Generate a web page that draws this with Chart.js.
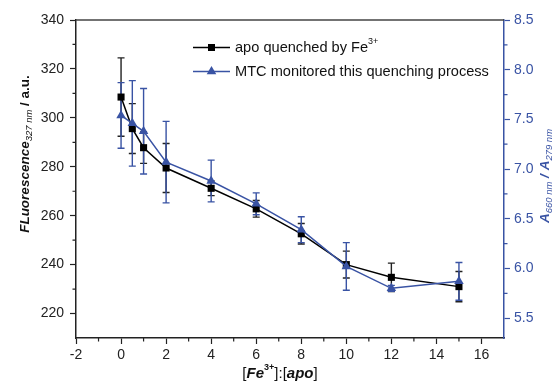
<!DOCTYPE html>
<html>
<head>
<meta charset="utf-8">
<script src="https://cdn.jsdelivr.net/npm/chart.js@4.4.1/dist/chart.umd.min.js"></script>
<style>
  html, body { margin: 0; padding: 0; background: #fff; }
  #wrap { width: 557px; height: 381px; position: relative; }
</style>
</head>
<body>
<div id="wrap"><canvas id="chart"></canvas></div>
<script>
// 数据: [Fe3+]:[apo] 比例
const ratios = [0, 0.5, 1, 2, 4, 6, 8, 10, 12, 15];
// 荧光强度 (左轴)
const fluo = [308.5, 295.6, 287.8, 279.5, 271.2, 262.8, 252.6, 240.0, 234.8, 231.0];
const fluoErr = [16, 10.2, 6.4, 10, 3, 3.4, 4.2, 5.5, 5.8, 6.2];
// A660/A279 (右轴)
const absRatio = [7.54, 7.46, 7.38, 7.07, 6.88, 6.65, 6.39, 6.02, 5.80, 5.87];
const absErr = [0.33, 0.43, 0.43, 0.41, 0.21, 0.11, 0.13, 0.24, 0.03, 0.19];
// 刻度
const xTicks = [-2, 0, 2, 4, 6, 8, 10, 12, 14, 16];
const yTicks = [220, 240, 260, 280, 300, 320, 340];
const y1Ticks = [5.5, 6.0, 6.5, 7.0, 7.5, 8.0, 8.5];
const xMinor = [-1, 1, 3, 5, 7, 9, 11, 13, 15];
const yMinor = [230, 250, 270, 290, 310, 330];
const y1Minor = [5.75, 6.25, 6.75, 7.25, 7.75, 8.25];

const BLUE = '#3953a4';
const FONT = '"Liberation Sans", Arial, sans-serif';

// 富文本 (上下标)
function richWidth(ctx, parts) {
    let w = 0;
    parts.forEach(p => { ctx.font = p.font; w += ctx.measureText(p.t).width; });
    return w;
}
function drawRich(ctx, parts, x, y, color) {
    let cx = x - richWidth(ctx, parts) / 2;
    ctx.fillStyle = color;
    ctx.textBaseline = 'middle';
    ctx.textAlign = 'left';
    parts.forEach(p => {
        ctx.font = p.font;
        ctx.fillText(p.t, cx, y + (p.dy || 0));
        cx += ctx.measureText(p.t).width;
    });
}

function drawMarker(ctx, style, x, y, color) {
    ctx.fillStyle = color;
    ctx.beginPath();
    if (style === 'rect') {
        ctx.rect(x - 3.5, y - 3.5, 7, 7);
    } else {
        ctx.moveTo(x, y - 5.5);
        ctx.lineTo(x + 4.8, y + 2.8);
        ctx.lineTo(x - 4.8, y + 2.8);
        ctx.closePath();
    }
    ctx.fill();
}

const extras = {
    id: 'extras',
    beforeDatasetsDraw(chart) {
        const ctx = chart.ctx;
        const xs = chart.scales.x;
        const sets = [
            { vals: fluo, errs: fluoErr, scale: chart.scales.y, color: '#222', w: 1.4 },
            { vals: absRatio, errs: absErr, scale: chart.scales.y1, color: BLUE, w: 1.4 }
        ];
        ctx.save();
        sets.forEach(s => {
            ctx.strokeStyle = s.color;
            ctx.lineWidth = s.w;
            ratios.forEach((r, i) => {
                const px = xs.getPixelForValue(r);
                const top = s.scale.getPixelForValue(s.vals[i] + s.errs[i]);
                const bot = s.scale.getPixelForValue(s.vals[i] - s.errs[i]);
                ctx.beginPath();
                ctx.moveTo(px, top); ctx.lineTo(px, bot);
                ctx.moveTo(px - 3.5, top); ctx.lineTo(px + 3.5, top);
                ctx.moveTo(px - 3.5, bot); ctx.lineTo(px + 3.5, bot);
                ctx.stroke();
            });
        });
        ctx.restore();
    },
    afterDraw(chart) {
        const ctx = chart.ctx;
        const a = chart.chartArea;
        const xs = chart.scales.x, ys = chart.scales.y, y1 = chart.scales.y1;
        ctx.save();
        // 顶部边框
        ctx.strokeStyle = '#444';
        ctx.lineWidth = 1.5;
        ctx.beginPath();
        ctx.moveTo(a.left, a.top); ctx.lineTo(a.right, a.top);
        ctx.stroke();
        // 次刻度
        ctx.lineWidth = 1.2;
        ctx.strokeStyle = '#222';
        ctx.beginPath();
        xMinor.forEach(v => { const p = xs.getPixelForValue(v); ctx.moveTo(p, a.bottom); ctx.lineTo(p, a.bottom + 3.5); });
        yMinor.forEach(v => { const p = ys.getPixelForValue(v); ctx.moveTo(a.left, p); ctx.lineTo(a.left - 3.5, p); });
        ctx.stroke();
        ctx.strokeStyle = BLUE;
        ctx.beginPath();
        y1Minor.forEach(v => { const p = y1.getPixelForValue(v); ctx.moveTo(a.right, p); ctx.lineTo(a.right + 3.5, p); });
        ctx.stroke();

        // 轴标题
        const big = 'bold italic 13.5px ' + FONT;
        const sub = 'italic 9.5px ' + FONT;
        ctx.save();
        ctx.translate(25, 154);
        ctx.rotate(-Math.PI / 2);
        drawRich(ctx, [
            { t: 'FLuorescence', font: big },
            { t: '327 nm', font: sub, dy: 4 },
            { t: ' / a.u.', font: 'bold 13.5px ' + FONT }
        ], 0, 0, '#111');
        ctx.restore();

        ctx.save();
        ctx.translate(545, 176);
        ctx.rotate(-Math.PI / 2);
        drawRich(ctx, [
            { t: 'A', font: big },
            { t: '660 nm', font: sub, dy: 4 },
            { t: ' / A', font: big },
            { t: '279 nm', font: sub, dy: 4 }
        ], 0, 0, BLUE);
        ctx.restore();

        const reg = '15px ' + FONT;
        const bx = 'bold italic 15px ' + FONT;
        drawRich(ctx, [
            { t: '[', font: reg },
            { t: 'Fe', font: bx },
            { t: '3+', font: 'bold 9px ' + FONT, dy: -6 },
            { t: ']:[', font: reg },
            { t: 'apo', font: bx },
            { t: ']', font: reg }
        ], (a.left + a.right) / 2 - 10, 374, '#111');

        // 图例
        const legend = [
            { y: 47.5, color: '#000', style: 'rect', parts: [
                { t: 'apo quenched by Fe', font: '14.6px ' + FONT },
                { t: '3+', font: '9px ' + FONT, dy: -6 }
            ] },
            { y: 71.5, color: BLUE, style: 'triangle', parts: [
                { t: 'MTC monitored this quenching process', font: '14.6px ' + FONT }
            ] }
        ];
        legend.forEach(l => {
            ctx.strokeStyle = l.color;
            ctx.lineWidth = 1.5;
            ctx.beginPath();
            ctx.moveTo(193, l.y); ctx.lineTo(230, l.y);
            ctx.stroke();
            drawMarker(ctx, l.style, 211.5, l.y, l.color);
            const w = richWidth(ctx, l.parts);
            drawRich(ctx, l.parts, 235 + w / 2, l.y, '#111');
        });
        ctx.restore();
    }
};

const toPts = (vals) => ratios.map((r, i) => ({ x: r, y: vals[i] }));

new Chart(document.getElementById('chart'), {
    type: 'line',
    data: {
        datasets: [
            {
                label: 'MTC monitored this quenching process',
                data: toPts(absRatio),
                yAxisID: 'y1',
                borderColor: BLUE,
                backgroundColor: BLUE,
                borderWidth: 1.5,
                pointStyle: 'triangle',
                pointRadius: 5.5,
                pointBorderWidth: 0,
                tension: 0,
                order: 0
            },
            {
                label: 'apo quenched by Fe3+',
                data: toPts(fluo),
                yAxisID: 'y',
                borderColor: '#000',
                backgroundColor: '#000',
                borderWidth: 1.5,
                pointStyle: 'rect',
                pointRadius: 5,
                pointBorderWidth: 0,
                tension: 0,
                order: 1
            }
        ]
    },
    options: {
        responsive: true,
        maintainAspectRatio: false,
        animation: false,
        layout: { padding: { top: 20, left: 0, right: 0, bottom: 0 } },
        plugins: {
            legend: { display: false },
            tooltip: { enabled: false }
        },
        scales: {
            x: {
                type: 'linear',
                min: -2,
                max: 17,
                afterBuildTicks: s => { s.ticks = xTicks.map(v => ({ value: v })); },
                afterFit: s => { s.height = 43; },
                grid: { drawOnChartArea: false, drawTicks: true, tickLength: 6, tickColor: '#222', tickWidth: 1.2 },
                border: { display: true, color: '#222', width: 1.5 },
                ticks: { color: '#222', font: { family: FONT, size: 14 }, padding: 3, maxRotation: 0 }
            },
            y: {
                position: 'left',
                min: 210,
                max: 340,
                afterBuildTicks: s => { s.ticks = yTicks.map(v => ({ value: v })); },
                afterFit: s => { s.width = 76; },
                grid: { drawOnChartArea: false, drawTicks: true, tickLength: 6, tickColor: '#222', tickWidth: 1.2 },
                border: { display: true, color: '#222', width: 1.5 },
                ticks: { color: '#222', font: { family: FONT, size: 14 }, padding: 6 }
            },
            y1: {
                position: 'right',
                min: 5.3,
                max: 8.5,
                afterBuildTicks: s => { s.ticks = y1Ticks.map(v => ({ value: v })); },
                afterFit: s => { s.width = 53; },
                grid: { drawOnChartArea: false, drawTicks: true, tickLength: 6, tickColor: BLUE, tickWidth: 1.2 },
                border: { display: true, color: BLUE, width: 1.5 },
                ticks: { color: BLUE, font: { family: FONT, size: 14 }, padding: 4,
                    callback: v => v.toFixed(1) }
            }
        }
    },
    plugins: [extras]
});
</script>
</body>
</html>
